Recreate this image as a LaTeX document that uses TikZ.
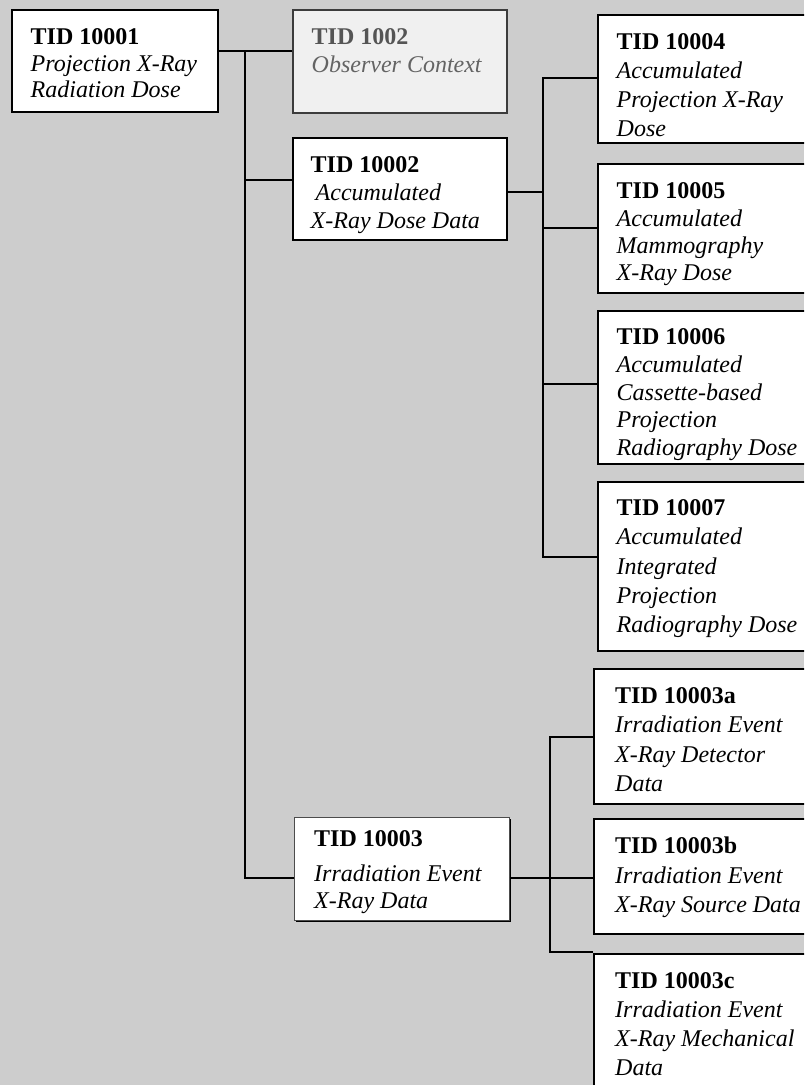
\documentclass[tikz,border=0pt]{standalone}
\usepackage{fontspec}
\setmainfont{Liberation Serif}
\usetikzlibrary{shadows}
\definecolor{paper}{RGB}{205,205,205}
\definecolor{ghostfill}{RGB}{240,240,240}
\definecolor{ghostline}{RGB}{60,60,60}
\definecolor{ghosthead}{RGB}{85,85,85}
\definecolor{ghosttext}{RGB}{100,100,100}
\begin{document}
\begin{tikzpicture}[x=1pt,y=-1pt,
  box/.style={draw=black, line width=1.8pt, fill=white, inner sep=0pt, anchor=north west},
  ghostbox/.style={box, draw=ghostline, fill=ghostfill},
  shadowbox/.style={box, draw=black!70, line width=0.8pt,
    drop shadow={shadow xshift=2pt, shadow yshift=-2pt, fill=black, opacity=1}},
  lbl/.style={anchor=north west, inner sep=0pt, align=left},
  fs/.style={font=\fontsize{24}{#1}\selectfont},
  wire/.style={draw=black, line width=1.3pt}]

% page and background
\useasboundingbox (0,0) rectangle (804,1085);
\clip (0,0) rectangle (804,1085);
\fill[paper] (0,0) rectangle (804,1085);

% template boxes
\node[box, minimum width=206pt, minimum height=102pt] (b10001) at (11,9) {};
\node[ghostbox, minimum width=214pt, minimum height=103pt] (b1002) at (292,9) {};
\node[box, minimum width=214pt, minimum height=102pt] (b10002) at (292,137) {};
\node[shadowbox, minimum width=215pt, minimum height=103pt] (b10003) at (294,817) {};
\node[box, minimum width=230pt, minimum height=128pt] (b10004) at (597,14) {};
\node[box, minimum width=230pt, minimum height=129pt] (b10005) at (597,163) {};
\node[box, minimum width=230pt, minimum height=153pt] (b10006) at (597,310) {};
\node[box, minimum width=230pt, minimum height=169pt] (b10007) at (597,481) {};
\node[box, minimum width=234pt, minimum height=135pt] (b10003a) at (593,668) {};
\node[box, minimum width=234pt, minimum height=115pt] (b10003b) at (593,818) {};
\node[box, minimum width=234pt, minimum height=160pt] (b10003c) at (593,953) {};

% labels
\node[lbl, fs=26.5] (l10001) at (30.5,45-16.2) {\textbf{TID 10001}\\\textit{Projection X-Ray}\\\textit{Radiation Dose}};
\node[lbl, fs=27.5] (l1002) at (311.5,45-16.2) {\textcolor{ghosthead}{\textbf{TID 1002}}\\\textcolor{ghosttext}{\textit{Observer Context}}};
\node[lbl, fs=27.7] (l10002) at (310.5,172.7-16.2) {\textbf{TID 10002}\\\hspace{5pt}\textit{Accumulated}\\\textit{X-Ray Dose Data}};
\node[lbl, fs=29] (l10004) at (616.5,49.3-16.2) {\textbf{TID 10004}\\\textit{Accumulated}\\\textit{Projection X-Ray}\\\textit{Dose}};
\node[lbl, fs=27.3] (l10005) at (616.5,199-16.2) {\textbf{TID 10005}\\\textit{Accumulated}\\\textit{Mammography}\\\textit{X-Ray Dose}};
\node[lbl, fs=27.9] (l10006) at (616.5,344.3-16.2) {\textbf{TID 10006}\\\textit{Accumulated}\\\textit{Cassette-based}\\\textit{Projection}\\\textit{Radiography Dose}};
\node[lbl, fs=29.2] (l10007) at (616.5,515.7-16.2) {\textbf{TID 10007}\\\textit{Accumulated}\\\textit{Integrated}\\\textit{Projection}\\\textit{Radiography Dose}};
\node[lbl, fs=29.5] (l10003a) at (615,703.3-16.2) {\textbf{TID 10003a}\\\textit{Irradiation Event}\\\textit{X-Ray Detector}\\\textit{Data}};
\node[lbl, fs=29.2] (l10003b) at (615,853.3-16.2) {\textbf{TID 10003b}\\\textit{Irradiation Event}\\\textit{X-Ray Source Data}};
\node[lbl, fs=29.2] (l10003c) at (615,988.3-16.2) {\textbf{TID 10003c}\\\textit{Irradiation Event}\\\textit{X-Ray Mechanical}\\\textit{Data}};
\node[lbl, fs=26.6] (l10003) at (314,846.7-16.2) {\textbf{TID 10003}\\[8.4pt]\textit{Irradiation Event}\\\textit{X-Ray Data}};

% trunk from TID 10001
\coordinate (t0) at (245,51);
\coordinate (t1) at (245,180);
\coordinate (t2) at (245,878);
\draw[wire] (b10001.east |- t0) -- (b1002.west |- t0);
\draw[wire] (t0) -- (t2) -- (b10003.west |- t2);
\draw[wire] (t1) -- (b10002.west |- t1);

% bus from TID 10002
\coordinate (u0) at (543,78);
\coordinate (u1) at (543,192);
\coordinate (u2) at (543,228);
\coordinate (u3) at (543,384);
\coordinate (u4) at (543,557);
\draw[wire] (b10002.east |- u1) -- (u1);
\draw[wire] (b10004.west |- u0) -- (u0) -- (u4) -- (b10007.west |- u4);
\draw[wire] (u2) -- (b10005.west |- u2);
\draw[wire] (u3) -- (b10006.west |- u3);

% bus from TID 10003
\coordinate (v0) at (550,737);
\coordinate (v1) at (550,878);
\coordinate (v2) at (550,952);
\draw[wire] (b10003.east |- v1) -- (b10003b.west |- v1);
\draw[wire] (b10003a.west |- v0) -- (v0) -- (v2) -- (b10003c.west |- v2);
\end{tikzpicture}
\end{document}
